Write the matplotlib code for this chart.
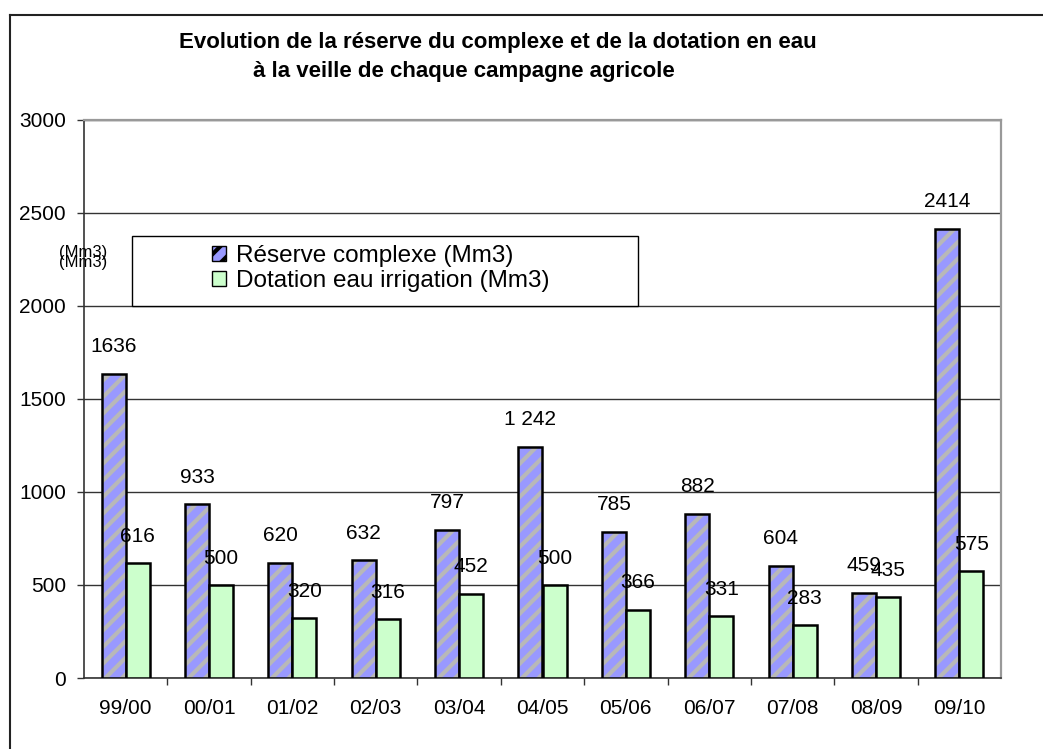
import numpy as np
import matplotlib
matplotlib.use('Agg')
import matplotlib.pyplot as plt
from matplotlib.lines import Line2D
from matplotlib.patches import Rectangle, Patch

plt.rcParams['font.family'] = ['Liberation Sans', 'DejaVu Sans']
plt.rcParams['hatch.linewidth'] = 3.0
plt.rcParams['hatch.color'] = '#b8b8b8'

# données
campagnes = ['99/00', '00/01', '01/02', '02/03', '03/04', '04/05',
             '05/06', '06/07', '07/08', '08/09', '09/10']
reserve = [1636, 933, 620, 632, 797, 1242, 785, 882, 604, 459, 2414]
dotation = [616, 500, 320, 316, 452, 500, 366, 331, 283, 435, 575]
reserve_lbl = ['1636', '933', '620', '632', '797', '1 242', '785', '882', '604', '459', '2414']
dotation_lbl = [str(v) for v in dotation]

W, H = 1043, 749
fig = plt.figure(figsize=(W / 100, H / 100), dpi=100)
ax = fig.add_axes([84 / W, 1 - 678 / H, (1001 - 84) / W, 558 / H])

x = np.arange(len(campagnes))
bw = 0.288

# barres réserve : fond hachuré puis contour noir
ax.bar(x - bw, reserve, width=bw, align='edge', color='#9999ff', hatch='//',
       edgecolor='#b8b8b8', linewidth=0, zorder=3)
ax.bar(x - bw, reserve, width=bw, align='edge', fill=False,
       edgecolor='black', linewidth=1.8, zorder=4)
# barres dotation
ax.bar(x, dotation, width=bw, align='edge', color='#ccffcc',
       edgecolor='black', linewidth=1.8, zorder=4)

for i in range(len(x)):
    ax.annotate(reserve_lbl[i], (x[i] - bw / 2, reserve[i]), xytext=(0, 27),
                textcoords='offset pixels', ha='center', va='center', fontsize=15, zorder=6)
    ax.annotate(dotation_lbl[i], (x[i] + bw / 2, dotation[i]), xytext=(0, 27),
                textcoords='offset pixels', ha='center', va='center', fontsize=15, zorder=6)

ax.set_xlim(-0.5, len(x) - 0.5)
ax.set_ylim(0, 3000)
ax.set_yticks(np.arange(0, 3001, 500))
ax.set_xticks(x)
ax.set_xticklabels(campagnes)
ax.set_xticks(np.arange(0.5, len(x) - 0.5, 1), minor=True)
ax.tick_params(axis='x', which='major', length=0, pad=15, labelsize=15)
ax.tick_params(axis='x', which='minor', length=5, width=1, color='#333333', direction='out')
ax.tick_params(axis='y', length=5, width=1, color='#333333', pad=8, labelsize=15)
ax.yaxis.grid(True, color='#333333', linewidth=1, zorder=0)
ax.set_axisbelow(True)
for s in ['top', 'right']:
    ax.spines[s].set_color('#999999')
    ax.spines[s].set_linewidth(1.6)
for s in ['left', 'bottom']:
    ax.spines[s].set_color('#333333')
    ax.spines[s].set_linewidth(1.2)

# titre
fig.text(498 / W, 1 - 48 / H, 'Evolution de la réserve du complexe et de la dotation en eau',
         ha='center', va='baseline', fontsize=16, fontweight='bold')
fig.text(464 / W, 1 - 77 / H, 'à la veille de chaque campagne agricole',
         ha='center', va='baseline', fontsize=16, fontweight='bold')

# cadre de la légende
fig.patches.append(Rectangle((132 / W, 1 - 306 / H), (638 - 132) / W, 70 / H,
                             transform=fig.transFigure, facecolor='white',
                             edgecolor='black', linewidth=1, zorder=5))
handles = [Patch(facecolor='#9999ff', edgecolor='black', hatch='//', linewidth=1),
           Patch(facecolor='#ccffcc', edgecolor='black', linewidth=1)]
leg = fig.legend(handles, ['Réserve complexe (Mm3)', 'Dotation eau irrigation (Mm3)'],
                 loc='upper left', bbox_to_anchor=(212 / W, 1 - 245 / H),
                 frameon=False, fontsize=17.5, handlelength=0.58, handleheight=0.58,
                 handletextpad=0.42, labelspacing=0.12, borderpad=0, borderaxespad=0)
leg.set_zorder(6)

fig.text(107 / W, 1 - 252 / H, '(Mm3)', ha='right', va='center', fontsize=12)
fig.text(107 / W, 1 - 262 / H, '(Mm3)', ha='right', va='center', fontsize=12)

# cadre extérieur
fig.add_artist(Line2D([10 / W, 10 / W], [0, 1 - 15 / H], transform=fig.transFigure,
                      color='#222222', linewidth=1.5))
fig.add_artist(Line2D([10 / W, 1], [1 - 15 / H, 1 - 15 / H], transform=fig.transFigure,
                      color='#222222', linewidth=1.5))

fig.savefig('out.png', dpi=100)
